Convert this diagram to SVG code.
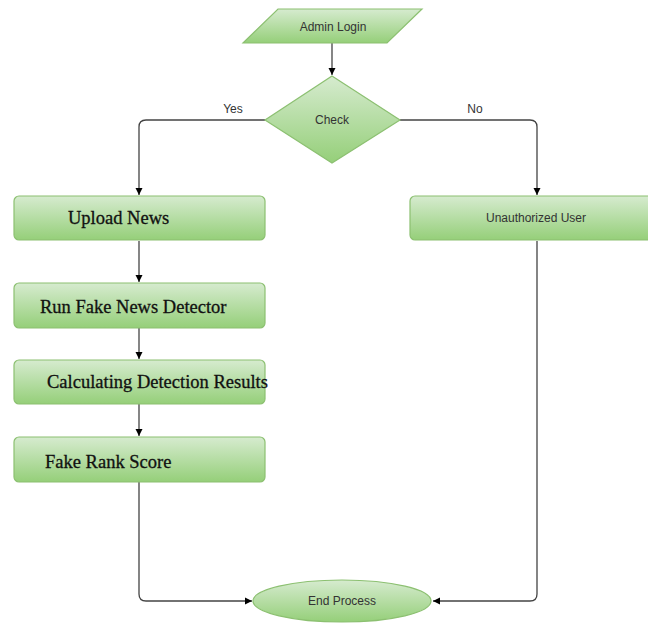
<svg xmlns="http://www.w3.org/2000/svg" width="648" height="624" viewBox="0 0 648 624">
<defs>
<linearGradient id="g" x1="0" y1="0" x2="0" y2="1">
<stop offset="0" stop-color="#d6ebcf"/>
<stop offset="1" stop-color="#95cf79"/>
</linearGradient>
<marker id="ah" markerWidth="8" markerHeight="8" refX="7" refY="4" orient="auto" markerUnits="userSpaceOnUse">
<path d="M0,0.5 L7,4 L0,7.5 Z" fill="#000"/>
</marker>
<style>
.n{fill:url(#g);stroke:#8cc071;stroke-width:1.2}
.s{font-family:"Liberation Sans",Arial,sans-serif;font-size:12px;fill:#333}
.t{font-family:"Liberation Serif","Times New Roman",serif;font-size:18.5px;fill:#111;stroke:#111;stroke-width:0.3}
.c{fill:none;stroke:#444;stroke-width:1.3}
</style>
</defs>
<rect width="648" height="624" fill="#fff"/>
<g id="connectors">
<path class="c" d="M332,43 V75" marker-end="url(#ah)"/>
<path class="c" d="M265,120 H146 Q139,120 139,127 V195" marker-end="url(#ah)"/>
<path class="c" d="M400,120 H530 Q537,120 537,127 V195" marker-end="url(#ah)"/>
<path class="c" d="M139,241 V282" marker-end="url(#ah)"/>
<path class="c" d="M139,328 V359" marker-end="url(#ah)"/>
<path class="c" d="M139,404 V436" marker-end="url(#ah)"/>
<path class="c" d="M139,482 V594 Q139,601 146,601 H252" marker-end="url(#ah)"/>
<path class="c" d="M537,241 V594 Q537,601 530,601 H433" marker-end="url(#ah)"/>
<text class="s" x="233" y="113" text-anchor="middle">Yes</text>
<text class="s" x="475" y="113" text-anchor="middle">No</text>
</g>
<g id="admin-login">
<polygon class="n" points="278,9 422,9 387,43 243,43"/>
<text class="s" x="333" y="31" text-anchor="middle">Admin Login</text>
</g>
<g id="check">
<polygon class="n" points="332,76 400,120 332,163 265,120"/>
<text class="s" x="332" y="124" text-anchor="middle">Check</text>
</g>
<g id="upload-news">
<rect class="n" x="14" y="196" width="251" height="44" rx="5"/>
<text class="t" x="68" y="224">Upload News</text>
</g>
<g id="run-detector">
<rect class="n" x="14" y="283" width="251" height="45" rx="5"/>
<text class="t" x="40" y="313">Run Fake News Detector</text>
</g>
<g id="calculating">
<rect class="n" x="14" y="360" width="251" height="44" rx="5"/>
<text class="t" x="47" y="388">Calculating Detection Results</text>
</g>
<g id="fake-rank">
<rect class="n" x="14" y="437" width="251" height="45" rx="5"/>
<text class="t" x="45" y="468">Fake Rank Score</text>
</g>
<g id="unauthorized">
<rect class="n" x="410" y="196" width="254" height="44" rx="5"/>
<text class="s" x="536" y="222" text-anchor="middle">Unauthorized User</text>
</g>
<g id="end-process">
<ellipse class="n" cx="342" cy="601" rx="89" ry="21"/>
<text class="s" x="342" y="605" text-anchor="middle">End Process</text>
</g>
</svg>
